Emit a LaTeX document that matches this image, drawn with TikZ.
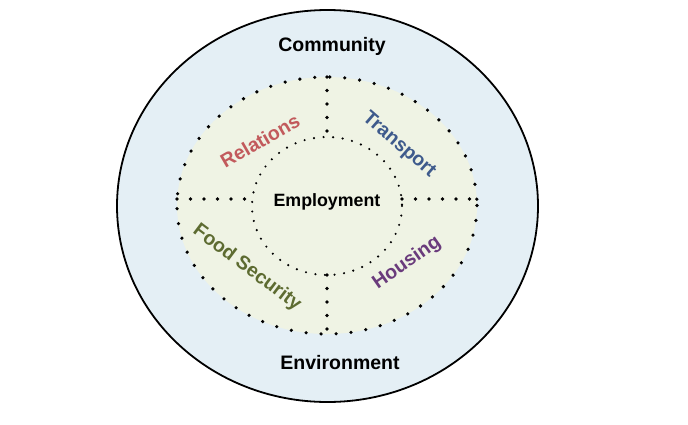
\documentclass[tikz,border=0pt]{standalone}
\usepackage{fontspec}
\setmainfont{Liberation Sans}
\usetikzlibrary{shapes.geometric}
\definecolor{outerfill}{HTML}{E4EFF5}
\definecolor{innerfill}{HTML}{EFF3E4}
\definecolor{relc}{HTML}{C25A5C}
\definecolor{trac}{HTML}{3E5A8C}
\definecolor{fooc}{HTML}{5D6B31}
\definecolor{houc}{HTML}{6A3B7C}
\begin{document}
\begin{tikzpicture}[x=1pt,y=-1pt,
  biglbl/.style={font=\fontsize{19.5}{20}\selectfont\bfseries, inner sep=0pt, text=black},
  seclbl/.style={font=\fontsize{19.5}{20}\selectfont\bfseries, inner sep=0pt},
  emplbl/.style={font=\fontsize{17.8}{18}\selectfont\bfseries, inner sep=0pt, text=black},
  bigdots/.style={line width=3.6pt, line cap=round, dash pattern=on 0pt off 15pt},
  divdots/.style={line width=3.6pt, line cap=round, dash pattern=on 0pt off 13.5pt},
  smalldots/.style={line width=2.4pt, line cap=round, dash pattern=on 0pt off 9.6pt}
]
\useasboundingbox (0,0) rectangle (688,424);
\fill[white] (0,0) rectangle (688,424);
% outer circle
\draw[line width=1.8pt, fill=outerfill] (327.5,206) ellipse [x radius=210.5, y radius=196];
% middle region
\fill[innerfill] (327,205.5) ellipse [x radius=150, y radius=128.5];
\draw[bigdots] (327,205.5) ellipse [x radius=150, y radius=128.5];
% inner circle
\draw[smalldots] (327,206) ellipse [x radius=75, y radius=69];
% division points
\coordinate (vt1) at (327,77);
\coordinate (vt2) at (327,137);
\coordinate (vb1) at (327,275);
\coordinate (vb2) at (327,334);
\coordinate (hl1) at (177,199);
\coordinate (hl2) at (252,199);
\coordinate (hr1) at (402,199);
\coordinate (hr2) at (477,199);
\draw[divdots] (vt1) -- (vt2);
\draw[divdots] (vb1) -- (vb2);
\draw[divdots] (hl1) -- (hl2);
\draw[divdots] (hr1) -- (hr2);
% labels
\node[biglbl] (community) at (332,46) {Community};
\node[biglbl] (environment) at (340,363) {Environment};
\node[emplbl] (employment) at (327,202) {Employment};
\node[seclbl, text=relc, rotate=30] (relations) at (260,141) {Relations};
\node[seclbl, text=trac, rotate=-41] (transport) at (399,145) {Transport};
\node[seclbl, text=fooc, rotate=-37] (food) at (247,268) {Food Security};
\node[seclbl, text=houc, rotate=35] (housing) at (407,263) {Housing};
\end{tikzpicture}
\end{document}
